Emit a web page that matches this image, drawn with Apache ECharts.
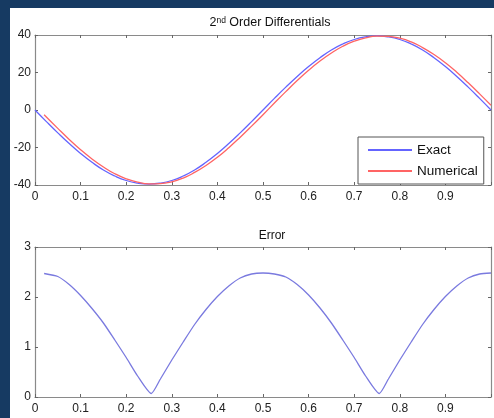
<!DOCTYPE html>
<html>
<head>
<meta charset="utf-8">
<script src="https://cdn.jsdelivr.net/npm/echarts@6/dist/echarts.min.js"></script>
<style>
  html, body { margin: 0; padding: 0; background: #163a62; }
  #chart { position: absolute; left: 10px; top: 8px; width: 484px; height: 410px; background: #fff; }
</style>
</head>
<body>
<div id="chart"></div>
<script>
// values
const exactX = [0, 0.025, 0.05, 0.075, 0.1, 0.125, 0.15, 0.175, 0.2, 0.225, 0.25, 0.275, 0.3, 0.325, 0.35, 0.375, 0.4, 0.425, 0.45, 0.475, 0.5,
  0.525, 0.55, 0.575, 0.6, 0.625, 0.65, 0.675, 0.7, 0.725, 0.75, 0.775, 0.8, 0.825, 0.85, 0.875, 0.9, 0.925, 0.95, 0.975, 1];
const exactY = [0, -6.2, -12.2, -17.9, -23.2, -27.9, -32.0, -35.2, -37.6, -39.0, -39.5, -39.0, -37.6, -35.2, -32.0, -27.9, -23.2, -17.9, -12.2, -6.2, 0,
  6.2, 12.2, 17.9, 23.2, 27.9, 32.0, 35.2, 37.6, 39.0, 39.5, 39.0, 37.6, 35.2, 32.0, 27.9, 23.2, 17.9, 12.2, 6.2, 0];

const numX = [0.02, 0.05, 0.075, 0.1, 0.125, 0.15, 0.175, 0.2, 0.225, 0.25, 0.275, 0.3, 0.325, 0.35, 0.375, 0.4, 0.425, 0.45, 0.475, 0.5,
  0.525, 0.55, 0.575, 0.6, 0.625, 0.65, 0.675, 0.7, 0.725, 0.75, 0.775, 0.8, 0.825, 0.85, 0.875, 0.9, 0.925, 0.95, 0.975, 1];
const numY = [-2.5, -9.8, -15.7, -21.2, -26.1, -30.4, -34.0, -36.7, -38.5, -39.4, -39.3, -38.3, -36.3, -33.3, -29.6, -25.2, -20.1, -14.5, -8.6, -2.5,
  3.7, 9.8, 15.7, 21.2, 26.1, 30.4, 34.0, 36.7, 38.5, 39.4, 39.3, 38.3, 36.3, 33.3, 29.6, 25.2, 20.1, 14.5, 8.6, 2.5];

const errX = [0.02, 0.05, 0.075, 0.1, 0.125, 0.15, 0.175, 0.2, 0.225, 0.255, 0.275, 0.3, 0.325, 0.35, 0.375, 0.4, 0.425, 0.45, 0.475, 0.5,
  0.525, 0.55, 0.575, 0.6, 0.625, 0.65, 0.675, 0.7, 0.725, 0.755, 0.775, 0.8, 0.825, 0.85, 0.875, 0.9, 0.925, 0.95, 0.975, 1];
const errY = [2.47, 2.41, 2.25, 2.03, 1.77, 1.48, 1.14, 0.79, 0.42, 0.07, 0.36, 0.74, 1.10, 1.45, 1.75, 2.01, 2.22, 2.38, 2.46, 2.48,
  2.46, 2.40, 2.25, 2.04, 1.78, 1.48, 1.14, 0.79, 0.42, 0.07, 0.36, 0.74, 1.10, 1.45, 1.75, 2.01, 2.22, 2.38, 2.46, 2.48];

const topTicks = [-40, 40, 20];   // min, max, interval
const errTicks = [0, 3, 1];

const pairs = (xs, ys) => xs.map((x, i) => [x, ys[i]]);

const boxColor = "#8a8a8a";
const labelFont = { fontFamily: "Liberation Sans", fontSize: 12, color: "#222" };

function xAx(grid, pos, labels) {
  return {
    type: "value", gridIndex: grid, position: pos, min: 0, max: 1, interval: 0.1,
    axisLine: { show: true, onZero: false, lineStyle: { color: boxColor, width: 1.2 } },
    axisTick: { show: true, inside: true, length: 3, lineStyle: { color: "#666" } },
    axisLabel: labels
      ? Object.assign({ show: true, margin: 6, formatter: v => (v >= 1 ? "" : String(+v.toFixed(1))) }, labelFont)
      : { show: false },
    splitLine: { show: false }
  };
}
function yAx(grid, pos, ticks, labels) {
  return {
    type: "value", gridIndex: grid, position: pos, min: ticks[0], max: ticks[1], interval: ticks[2],
    axisLine: { show: true, onZero: false, lineStyle: { color: boxColor, width: 1.2 } },
    axisTick: { show: true, inside: true, length: 3, lineStyle: { color: "#666" } },
    axisLabel: labels ? Object.assign({ show: true, margin: 4 }, labelFont) : { show: false },
    splitLine: { show: false }
  };
}

const chart = echarts.init(document.getElementById("chart"));
chart.setOption({
  animation: false,
  title: [
    {
      text: "{a|2}{s|nd}{a| Order Differentials}",
      left: 255, top: 3, textAlign: "center",
      textStyle: {
        rich: {
          a: { fontFamily: "Liberation Sans", fontSize: 12.5, fontWeight: "normal", color: "#111" },
          s: { fontFamily: "Liberation Sans", fontSize: 8.5, fontWeight: "normal", color: "#111", verticalAlign: "top", padding: [0, 0, 5, 0] }
        }
      }
    },
    {
      text: "Error", left: 257, top: 217, textAlign: "center",
      textStyle: { fontFamily: "Liberation Sans", fontSize: 12, fontWeight: "normal", color: "#111" }
    }
  ],
  legend: {
    data: ["Exact", "Numerical"],
    orient: "vertical",
    left: 348, top: 129,
    padding: [6, 6, 6, 10],
    itemWidth: 44, itemHeight: 2, itemGap: 7,
    icon: "rect",
    backgroundColor: "#fff",
    borderColor: "#555", borderWidth: 1,
    textStyle: { fontFamily: "Liberation Sans", fontSize: 13.5, color: "#111" }
  },
  grid: [
    { left: 25, top: 27, width: 462, height: 150 },
    { left: 25, top: 239, width: 462, height: 150 }
  ],
  xAxis: [xAx(0, "bottom", true), xAx(0, "top", false), xAx(1, "bottom", true), xAx(1, "top", false)],
  yAxis: [yAx(0, "left", topTicks, true), yAx(0, "right", topTicks, false), yAx(1, "left", errTicks, true), yAx(1, "right", errTicks, false)],
  series: [
    {
      name: "Exact", type: "line", xAxisIndex: 0, yAxisIndex: 0, data: pairs(exactX, exactY),
      smooth: true, symbol: "none", lineStyle: { color: "#6464ff", width: 1.3 }, itemStyle: { color: "#6464ff" }
    },
    {
      name: "Numerical", type: "line", xAxisIndex: 0, yAxisIndex: 0, data: pairs(numX, numY),
      smooth: true, symbol: "none", lineStyle: { color: "#ff6464", width: 1.3 }, itemStyle: { color: "#ff6464" }
    },
    {
      name: "Error", type: "line", xAxisIndex: 2, yAxisIndex: 2, data: pairs(errX, errY),
      smooth: 0.2, symbol: "none", lineStyle: { color: "#7a7adf", width: 1.3 }
    }
  ]
});
</script>
</body>
</html>
